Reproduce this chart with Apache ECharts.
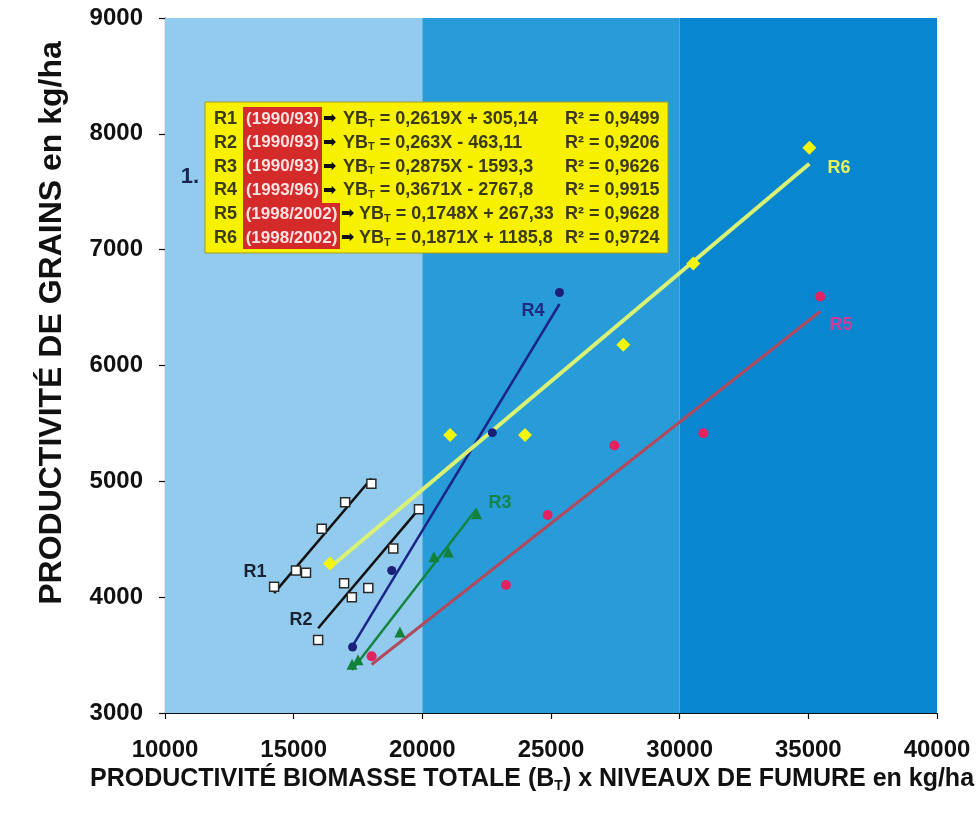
<!DOCTYPE html>
<html>
<head>
<meta charset="utf-8">
<script src="https://cdn.jsdelivr.net/npm/echarts@6/dist/echarts.min.js"></script>
<style>
  html, body { margin: 0; padding: 0; background: #ffffff; }
  #chart { width: 978px; height: 813px; }
</style>
</head>
<body>
<div id="chart"></div>
<script>
// Biomass x manure level (kg/ha) vs grain yield (kg/ha), six regressions R1..R6
const r1X = [14240, 15090, 15480, 16090, 17000, 18020];
const r1Y = [4090, 4230, 4210, 4590, 4820, 4980];
const r2X = [15950, 16960, 17260, 17900, 18870, 19870];
const r2Y = [3630, 4120, 4000, 4080, 4420, 4760];
const r3X = [17270, 17500, 19130, 20450, 21010, 22110];
const r3Y = [3420, 3460, 3700, 4350, 4390, 4720];
const r4X = [17290, 18810, 22720, 25330];
const r4Y = [3570, 4230, 5420, 6630];
const r5X = [18030, 23250, 24870, 27460, 30920, 35460];
const r5Y = [3490, 4105, 4710, 5310, 5415, 6595];
const r6X = [16410, 21080, 23990, 27810, 30530, 35040];
const r6Y = [4290, 5400, 5400, 6180, 6880, 7880];

// Regression summaries
const seriesNames = ['R1', 'R2', 'R3', 'R4', 'R5', 'R6'];
const periods = ['(1990/93)', '(1990/93)', '(1990/93)', '(1993/96)', '(1998/2002)', '(1998/2002)'];
const slopes = [0.2619, 0.263, 0.2875, 0.3671, 0.1748, 0.1871];
const intercepts = [305.14, -463.11, -1593.3, -2767.8, 267.33, 1185.8];
const r2Values = ['0,9499', '0,9206', '0,9626', '0,9915', '0,9628', '0,9724'];

// Axis ranges and background zones
const xRange = [10000, 40000];
const yRange = [3000, 9000];
const zoneBreaks = [10000, 20000, 30000, 40000];

const xs = [r1X, r2X, r3X, r4X, r5X, r6X];
const ys = [r1Y, r2Y, r3Y, r4Y, r5Y, r6Y];

const markerStyles = [
  { symbol: 'rect', size: 9, color: '#ffffff', border: '#2a2a2a', bw: 1.5 },
  { symbol: 'rect', size: 9, color: '#ffffff', border: '#2a2a2a', bw: 1.5 },
  { symbol: 'triangle', size: 11, color: '#13813c', border: '#13813c', bw: 0 },
  { symbol: 'circle', size: 9, color: '#1b1f78', border: '#1b1f78', bw: 0 },
  { symbol: 'circle', size: 10, color: '#e2235f', border: '#e2235f', bw: 0 },
  { symbol: 'diamond', size: 14, color: '#f3f50c', border: '#f3f50c', bw: 0 }
];
const lineStyles = [
  { color: '#111111', width: 2.5 },
  { color: '#111111', width: 2.5 },
  { color: '#138540', width: 2.5 },
  { color: '#1c2488', width: 2.5 },
  { color: '#b14a5c', width: 3 },
  { color: '#d9f274', width: 4 }
];
const zoneColors = ['#93cbef', '#289bd9', '#0986d0'];

const series = [];

// Background zones
series.push({
  type: 'line',
  data: [],
  silent: true,
  z: 0,
  markArea: {
    silent: true,
    itemStyle: { opacity: 1 },
    data: zoneColors.map((c, i) => [
      { xAxis: zoneBreaks[i], itemStyle: { color: c } },
      { xAxis: zoneBreaks[i + 1] }
    ])
  }
});

// Trend lines from the regression equations, over each group's x span
for (let i = 0; i < 6; i++) {
  const x0 = Math.min(...xs[i]);
  const x1 = Math.max(...xs[i]);
  series.push({
    type: 'line',
    name: seriesNames[i] + ' fit',
    data: [[x0, slopes[i] * x0 + intercepts[i]], [x1, slopes[i] * x1 + intercepts[i]]],
    showSymbol: false,
    silent: true,
    z: 3,
    lineStyle: { color: lineStyles[i].color, width: lineStyles[i].width }
  });
}

// Observed points
for (let i = 0; i < 6; i++) {
  const m = markerStyles[i];
  series.push({
    type: 'scatter',
    name: seriesNames[i],
    data: xs[i].map((x, k) => [x, ys[i][k]]),
    symbol: m.symbol,
    symbolSize: m.size,
    z: 5,
    itemStyle: { color: m.color, borderColor: m.border, borderWidth: m.bw, opacity: 1 }
  });
}

const FONT = '"Liberation Sans", "DejaVu Sans", Arial, sans-serif';
const fmt = v => String(v).replace('.', ',');

// Equation box
const graphics = [];
const boxX = 205, boxY = 102, boxW = 463, boxH = 151;
graphics.push({
  type: 'rect', z: 10,
  shape: { x: boxX, y: boxY, width: boxW, height: boxH },
  style: { fill: '#f7f100', stroke: '#a09a2a', lineWidth: 1 }
});
graphics.push({
  type: 'polygon', z: 11,
  shape: { points: [[243, 107], [322, 107], [322, 203], [340, 203], [340, 249], [243, 249]] },
  style: { fill: '#d52a2a' }
});
const rowY0 = 119, rowStep = 23.8;
const boxText = '#3b3a16';
for (let i = 0; i < 6; i++) {
  const y = rowY0 + i * rowStep;
  const wide = periods[i].length > 9;
  graphics.push({
    type: 'text', z: 12,
    style: { text: seriesNames[i], x: 214, y: y, font: 'bold 18px ' + FONT, fill: boxText, align: 'left', verticalAlign: 'middle' }
  });
  graphics.push({
    type: 'text', z: 12,
    style: { text: periods[i], x: wide ? 291.5 : 282.5, y: y, font: 'bold 17px ' + FONT, fill: '#ffe2e2', align: 'center', verticalAlign: 'middle' }
  });
  graphics.push({
    type: 'text', z: 12,
    style: { text: '➡', x: wide ? 341 : 323, y: y, font: 'bold 16px "DejaVu Sans"', fill: '#111111', align: 'left', verticalAlign: 'middle' }
  });
  const b = intercepts[i];
  const eq = ' = ' + fmt(slopes[i]) + 'X ' + (b < 0 ? '- ' : '+ ') + fmt(Math.abs(b));
  graphics.push({
    type: 'text', z: 12,
    style: {
      text: '{n|YB}{s|T}{n|' + eq + '}',
      x: wide ? 359 : 343, y: y, align: 'left', verticalAlign: 'middle',
      rich: {
        n: { font: 'bold 18px ' + FONT, fill: boxText, lineHeight: 20 },
        s: { font: 'bold 11px ' + FONT, fill: boxText, lineHeight: 20, verticalAlign: 'bottom' }
      }
    }
  });
  graphics.push({
    type: 'text', z: 12,
    style: { text: 'R² = ' + r2Values[i], x: 565, y: y, font: 'bold 18px ' + FONT, fill: boxText, align: 'left', verticalAlign: 'middle' }
  });
}

// Group labels
const labelSpecs = [
  ['1.', 190, 177, '#1a2450', 22],
  ['R1', 255, 572, '#1b2233', 18],
  ['R2', 301, 620, '#1b2233', 18],
  ['R3', 500, 503, '#14844a', 18],
  ['R4', 533, 311, '#1c2a80', 18],
  ['R5', 841, 325, '#d03a9a', 18],
  ['R6', 839, 168, '#e6f25a', 18]
];
labelSpecs.forEach(([t, x, y, c, s]) => {
  graphics.push({
    type: 'text', z: 9,
    style: { text: t, x: x, y: y, font: 'bold ' + s + 'px ' + FONT, fill: c, align: 'center', verticalAlign: 'middle' }
  });
});

// Axis titles
graphics.push({
  type: 'text', z: 9,
  style: {
    text: '{a|PRODUCTIVITÉ BIOMASSE TOTALE (B}{s|T}{a|) x NIVEAUX DE FUMURE en kg/ha}',
    x: 532, y: 779, align: 'center', verticalAlign: 'middle',
    rich: {
      a: { font: 'bold 25px ' + FONT, fill: '#111111', lineHeight: 28 },
      s: { font: 'bold 14px ' + FONT, fill: '#111111', lineHeight: 28, verticalAlign: 'bottom' }
    }
  }
});
graphics.push({
  type: 'text', z: 9,
  x: 52, y: 323, rotation: Math.PI / 2,
  style: { text: 'PRODUCTIVITÉ DE GRAINS en kg/ha', x: 0, y: 0, font: 'bold 32px ' + FONT, fill: '#111111', align: 'center', verticalAlign: 'middle' }
});

const axisCommon = {
  axisLine: { show: true, lineStyle: { color: '#111111', width: 1.2 } },
  axisTick: { show: true, inside: false, length: 6, lineStyle: { color: '#111111', width: 1.2 } },
  splitLine: { show: false },
  axisLabel: { color: '#111111', fontFamily: FONT, fontWeight: 'bold', fontSize: 24, formatter: v => String(v) }
};

const chart = echarts.init(document.getElementById('chart'), null, { renderer: 'canvas' });
chart.setOption({
  animation: false,
  backgroundColor: '#ffffff',
  grid: { left: 165, top: 18, width: 772, height: 695, containLabel: false },
  xAxis: Object.assign({}, axisCommon, {
    type: 'value', min: xRange[0], max: xRange[1], interval: 5000,
    axisLabel: Object.assign({}, axisCommon.axisLabel, { margin: 25 })
  }),
  yAxis: Object.assign({}, axisCommon, {
    type: 'value', min: yRange[0], max: yRange[1], interval: 1000,
    axisLabel: Object.assign({}, axisCommon.axisLabel, { margin: 22 })
  }),
  series: series,
  graphic: graphics
});
</script>
</body>
</html>
